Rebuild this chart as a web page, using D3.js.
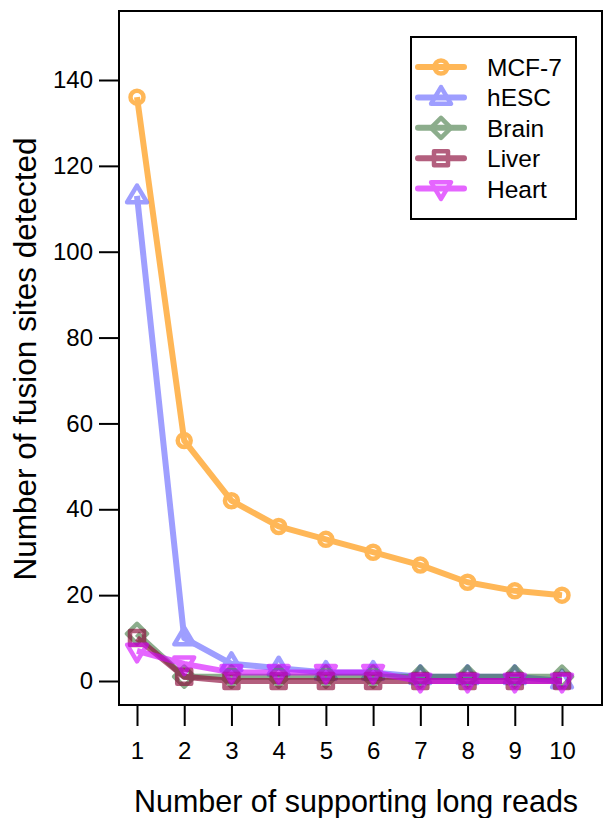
<!DOCTYPE html>
<html>
<head>
<meta charset="utf-8">
<script src="https://cdn.jsdelivr.net/npm/d3@7"></script>
<style>
  body { margin: 0; background: #fff; }
  text { font-family: "Liberation Sans", Arial, sans-serif; }
</style>
</head>
<body>
<script>
/* global d3 */
const reads = [1, 2, 3, 4, 5, 6, 7, 8, 9, 10];
const mcf7  = [136, 56, 42, 36, 33, 30, 27, 23, 21, 20];
const hesc  = [113, 10, 4, 3, 2, 2, 1, 1, 1, 0];
const brain = [11, 1, 1, 1, 1, 1, 1, 1, 1, 1];
const liver = [10, 1, 0, 0, 0, 0, 0, 0, 0, 0];
const heart = [7, 4, 2, 2, 2, 2, 0, 0, 0, 0];
const yTicks = [0, 20, 40, 60, 80, 100, 120, 140];

const series = [
  {name: "MCF-7", values: mcf7,  color: "#ffa020", opacity: 0.75, shape: "circle"},
  {name: "hESC",  values: hesc,  color: "#6b6bff", opacity: 0.65, shape: "up"},
  {name: "Brain", values: brain, color: "#2f6b2f", opacity: 0.55, shape: "diamond"},
  {name: "Liver", values: liver, color: "#8b0a3a", opacity: 0.65, shape: "square"},
  {name: "Heart", values: heart, color: "#d400ff", opacity: 0.6,  shape: "down"}
];

const width = 603, height = 818;
const box = {left: 119, top: 11, right: 602, bottom: 705};

const svg = d3.select("body").append("svg")
  .attr("width", width).attr("height", height);

const x = d3.scaleLinear().domain([1, 10]).range([137, 562]);
const y = d3.scaleLinear().domain([0, 140]).range([681, 80]);

// box
svg.append("rect")
  .attr("x", box.left).attr("y", box.top)
  .attr("width", box.right - box.left).attr("height", box.bottom - box.top)
  .attr("fill", "none").attr("stroke", "#000").attr("stroke-width", 2);

// y axis
const yAxis = svg.append("g")
  .attr("transform", `translate(${box.left},0)`)
  .call(d3.axisLeft(y).tickValues(yTicks).tickSize(20).tickPadding(6));
yAxis.select(".domain").remove();
yAxis.selectAll("line").attr("stroke-width", 2);
yAxis.attr("font-size", 24).attr("font-family", "Liberation Sans, Arial, sans-serif");

// x axis
const xAxis = svg.append("g")
  .attr("transform", `translate(0,${box.bottom})`)
  .call(d3.axisBottom(x).tickValues(reads).tickSize(21).tickPadding(16));
xAxis.select(".domain").remove();
xAxis.selectAll("line").attr("stroke-width", 2);
xAxis.attr("font-size", 24).attr("font-family", "Liberation Sans, Arial, sans-serif");

svg.append("text")
  .attr("x", 356).attr("y", 812)
  .attr("text-anchor", "middle").attr("font-size", 30.5)
  .text("Number of supporting long reads");

svg.append("text")
  .attr("transform", "translate(36,359) rotate(-90)")
  .attr("text-anchor", "middle").attr("font-size", 31.5)
  .text("Number of fusion sites detected");

function marker(g, shape, cx, cy, color) {
  const s = 9;
  let el;
  if (shape === "circle") {
    el = g.append("circle").attr("cx", cx).attr("cy", cy).attr("r", 6.5);
  } else if (shape === "square") {
    el = g.append("rect").attr("x", cx - 7).attr("y", cy - 7).attr("width", 14).attr("height", 14);
  } else {
    let pts;
    if (shape === "up") pts = [[cx, cy - s * 1.15], [cx + s * 1.1, cy + s * 0.7], [cx - s * 1.1, cy + s * 0.7]];
    else if (shape === "down") pts = [[cx, cy + s * 1.15], [cx + s * 1.1, cy - s * 0.7], [cx - s * 1.1, cy - s * 0.7]];
    else pts = [[cx, cy - 10], [cx + 10, cy], [cx, cy + 10], [cx - 10, cy]];
    el = g.append("polygon").attr("points", pts.map(p => p.join(",")).join(" "));
  }
  el.attr("fill", "none").attr("stroke", color).attr("stroke-width", 4.5)
    .attr("stroke-linejoin", "round");
}

const line = d3.line().x((d, i) => x(reads[i])).y(d => y(d));

series.forEach(s => {
  const g = svg.append("g").attr("opacity", s.opacity);
  g.append("path").datum(s.values)
    .attr("d", line).attr("fill", "none")
    .attr("stroke", s.color).attr("stroke-width", 6)
    .attr("stroke-linejoin", "round");
  s.values.forEach((v, i) => marker(g, s.shape, x(reads[i]), y(v), s.color));
});

// legend
const lg = svg.append("g");
lg.append("rect")
  .attr("x", 411).attr("y", 37).attr("width", 165).attr("height", 182)
  .attr("fill", "#fff").attr("stroke", "#000").attr("stroke-width", 2);
series.forEach((s, i) => {
  const cy = 67 + i * 30.4;
  const g = lg.append("g").attr("opacity", s.opacity);
  g.append("line").attr("x1", 418).attr("x2", 464).attr("y1", cy).attr("y2", cy)
    .attr("stroke", s.color).attr("stroke-width", 6).attr("stroke-linecap", "round");
  marker(g, s.shape, 441, cy, s.color);
  lg.append("text").attr("x", 487).attr("y", cy + 9)
    .attr("font-size", 24.5).text(s.name);
});
</script>
</body>
</html>
